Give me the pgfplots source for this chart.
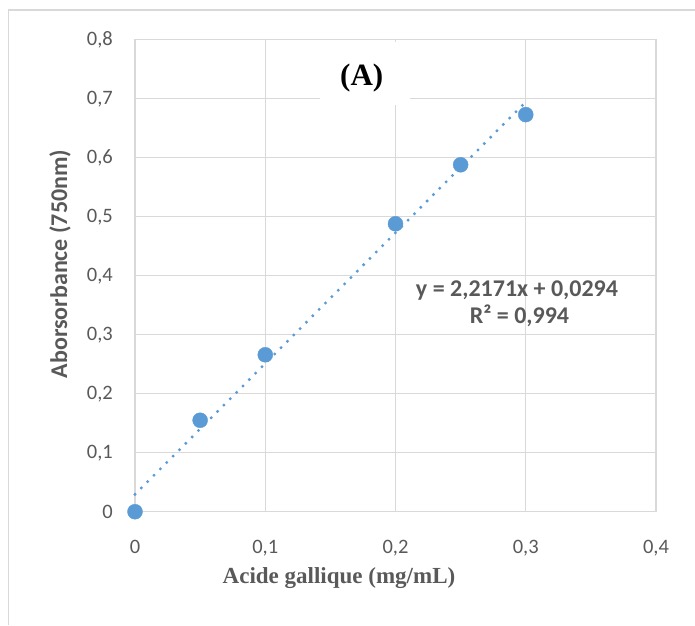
\documentclass[border=0pt]{standalone}
\usepackage{pgfplots}
\pgfplotsset{compat=1.18}
\usepackage{fontspec}
\setmainfont{Liberation Serif}
\newfontfamily\carlito{Carlito}
\definecolor{gridgray}{RGB}{217,217,217}
\definecolor{txtgray}{RGB}{89,89,89}
\definecolor{exblue}{RGB}{91,155,213}
\begin{document}
\begin{tikzpicture}[x=1pt,y=1pt]
\path[use as bounding box] (0,0) rectangle (695,625);
\draw[gridgray, line width=1.5pt] (8.5,0) -- (8.5,615) -- (695,615);
\begin{axis}[
  at={(135pt,113.3pt)}, anchor=south west,
  scale only axis, width=521pt, height=472pt,
  xmin=0, xmax=0.4, ymin=0, ymax=0.8,
  grid=major, major grid style={gridgray, line width=1.2pt},
  axis line style={gridgray, line width=1.2pt},
  major tick length=0pt,
  xtick={0,0.1,0.2,0.3,0.4}, xticklabels={0,{0,1},{0,2},{0,3},{0,4}},
  ytick={0,0.1,0.2,0.3,0.4,0.5,0.6,0.7,0.8},
  yticklabels={0,{0,1},{0,2},{0,3},{0,4},{0,5},{0,6},{0,7},{0,8}},
  ticklabel style={font=\carlito\fontsize{20.5}{24}\selectfont, text=txtgray, inner sep=0pt},
  xticklabel style={anchor=north, yshift=-28pt},
  yticklabel style={anchor=east, xshift=-22pt},
  clip=false]
\addplot[only marks, mark=*, mark size=7.5pt, mark options={draw=exblue, fill=exblue}]
  coordinates {(0,0) (0.05,0.155) (0.1,0.266) (0.2,0.488) (0.25,0.588) (0.3,0.673)};
\addplot[exblue, line width=3.3pt, line cap=round, dash pattern=on 0pt off 9pt]
  coordinates {(0,0.0294) (0.3,0.6945)};
\end{axis}
\fill[white] (320,520) rectangle (410,583);
\node[anchor=base, inner sep=0pt, font=\fontsize{31}{36}\selectfont\bfseries] at (361.7,539) {(A)};
\node[anchor=base, inner sep=0pt, text=txtgray, font=\carlito\bfseries\fontsize{24}{28}\selectfont] at (517,328.3) {y = 2,2171x + 0,0294};
\node[anchor=base, inner sep=0pt, text=txtgray, font=\carlito\bfseries\fontsize{24}{28}\selectfont] at (519.5,302) {R² = 0,994};
\node[anchor=base, inner sep=0pt, text=txtgray, font=\bfseries\fontsize{23}{27}\selectfont] at (339,42) {Acide gallique (mg/mL)};
\node[rotate=90, inner sep=0pt, text=txtgray, font=\carlito\bfseries\fontsize{24}{28}\selectfont] at (60,361) {Aborsorbance (750nm)};
\end{tikzpicture}
\end{document}
